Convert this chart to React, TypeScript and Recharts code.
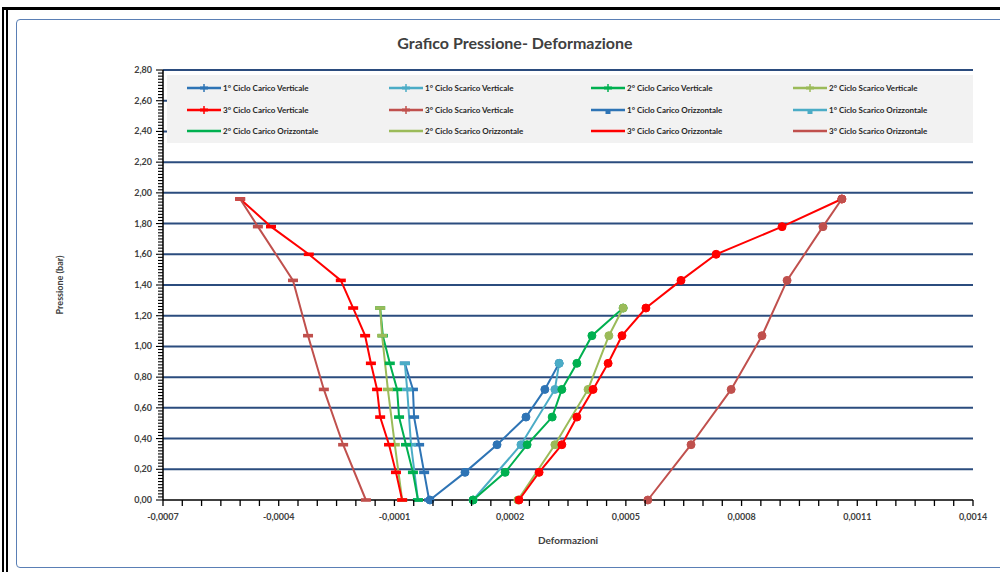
import React from "react";
import { CartesianGrid, Line, LineChart, XAxis, YAxis } from "recharts";

// pressure steps (bar) for each half-cycle
const P_CARICO_1 = [0, 0.18, 0.36, 0.54, 0.72, 0.89];
const P_SCARICO_1 = [0.89, 0.72, 0.36, 0];
const P_CARICO_2 = [0, 0.18, 0.36, 0.54, 0.72, 0.89, 1.07, 1.25];
const P_SCARICO_2 = [1.25, 1.07, 0.72, 0.36, 0];
const P_CARICO_3 = [0, 0.18, 0.36, 0.54, 0.72, 0.89, 1.07, 1.25, 1.43, 1.6, 1.78, 1.96];
const P_SCARICO_3 = [1.96, 1.78, 1.43, 1.07, 0.72, 0.36, 0];

// vertical strain (left group)
const D_CARICO_1_V = [-0.00001, -0.000023, -0.000036, -0.000049, -0.000052, -0.000073];
const D_SCARICO_1_V = [-0.000073, -0.000067, -0.000057, -0.000039];
const D_CARICO_2_V = [-0.000039, -0.000052, -0.00007, -0.000088, -0.000093, -0.000112, -0.00013, -0.000137];
const D_SCARICO_2_V = [-0.000137, -0.000132, -0.000117, -0.000099, -0.00008];
const D_CARICO_3_V = [-0.00008, -0.000096, -0.000114, -0.000137, -0.000145, -0.000161, -0.000176, -0.000207, -0.000239, -0.000322, -0.00042, -0.0005];
const D_SCARICO_3_V = [-0.0005, -0.000454, -0.000363, -0.000324, -0.000283, -0.000233, -0.000174];

// horizontal strain (right group)
const D_CARICO_1_O = [-0.000008, 0.000083, 0.000166, 0.000241, 0.00029, 0.000327];
const D_SCARICO_1_O = [0.000327, 0.000316, 0.000228, 0.000104];
const D_CARICO_2_O = [0.000104, 0.000187, 0.000244, 0.000309, 0.000334, 0.000373, 0.000412, 0.000493];
const D_SCARICO_2_O = [0.000493, 0.000456, 0.000402, 0.000316, 0.00022];
const D_CARICO_3_O = [0.000223, 0.000275, 0.000334, 0.000373, 0.000415, 0.000454, 0.00049, 0.000552, 0.000643, 0.000734, 0.000905, 0.00106];
const D_SCARICO_3_O = [0.00106, 0.001011, 0.000918, 0.000853, 0.000773, 0.000669, 0.000557];

const X_MAJOR = [-0.0007, -0.0004, -0.0001, 0.0002, 0.0005, 0.0008, 0.0011, 0.0014];
const Y_MAJOR = [0, 0.2, 0.4, 0.6, 0.8, 1, 1.2, 1.4, 1.6, 1.8, 2, 2.2, 2.4, 2.6, 2.8];

const C = {
  blu: "#2E74B5",
  azzurro: "#4BACC6",
  verde: "#00B050",
  oliva: "#9BBB59",
  rosso: "#FF0000",
  bruno: "#C0504D",
};

type Serie = {
  name: string;
  color: string;
  p: number[];
  d: number[];
  kind: "V" | "O";
  legendMark: "plus" | "square" | "none";
};

const SERIES: Serie[] = [
  { name: "1° Ciclo Carico Verticale", color: C.blu, p: P_CARICO_1, d: D_CARICO_1_V, kind: "V", legendMark: "plus" },
  { name: "1° Ciclo Scarico Verticale", color: C.azzurro, p: P_SCARICO_1, d: D_SCARICO_1_V, kind: "V", legendMark: "plus" },
  { name: "2° Ciclo Carico Verticale", color: C.verde, p: P_CARICO_2, d: D_CARICO_2_V, kind: "V", legendMark: "plus" },
  { name: "2° Ciclo Scarico Verticale", color: C.oliva, p: P_SCARICO_2, d: D_SCARICO_2_V, kind: "V", legendMark: "plus" },
  { name: "3° Ciclo Carico Verticale", color: C.rosso, p: P_CARICO_3, d: D_CARICO_3_V, kind: "V", legendMark: "plus" },
  { name: "3° Ciclo Scarico Verticale", color: C.bruno, p: P_SCARICO_3, d: D_SCARICO_3_V, kind: "V", legendMark: "plus" },
  { name: "1° Ciclo Carico Orizzontale", color: C.blu, p: P_CARICO_1, d: D_CARICO_1_O, kind: "O", legendMark: "square" },
  { name: "1° Ciclo Scarico Orizzontale", color: C.azzurro, p: P_SCARICO_1, d: D_SCARICO_1_O, kind: "O", legendMark: "square" },
  { name: "2° Ciclo Carico Orizzontale", color: C.verde, p: P_CARICO_2, d: D_CARICO_2_O, kind: "O", legendMark: "none" },
  { name: "2° Ciclo Scarico Orizzontale", color: C.oliva, p: P_SCARICO_2, d: D_SCARICO_2_O, kind: "O", legendMark: "none" },
  { name: "3° Ciclo Carico Orizzontale", color: C.rosso, p: P_CARICO_3, d: D_CARICO_3_O, kind: "O", legendMark: "none" },
  { name: "3° Ciclo Scarico Orizzontale", color: C.bruno, p: P_SCARICO_3, d: D_SCARICO_3_O, kind: "O", legendMark: "none" },
];

const FONT = "Lato, 'Open Sans', sans-serif";
const LABEL_FILL = "#404040";

// minor ticks: every 0.00005 on x, every 0.02 on y
const X_TICKS: number[] = [];
for (let i = 0; i <= 42; i++) X_TICKS.push(Math.round((-0.0007 + i * 0.00005) * 1e7) / 1e7);
const Y_TICKS: number[] = [];
for (let i = 0; i <= 140; i++) Y_TICKS.push(Math.round(i * 0.02 * 100) / 100);

const isMajor = (v: number, list: number[]) => list.some((m) => Math.abs(m - v) < 1e-9);
const fmtX = (v: number) => v.toFixed(4).replace(".", ",");
const fmtY = (v: number) => v.toFixed(2).replace(".", ",");

function XTick(props: any) {
  const { x, y, payload } = props;
  const v = payload.value as number;
  return (
    <g>
      <line x1={x} y1={y} x2={x} y2={y + 6} stroke="#000" strokeWidth={1.3} />
      {isMajor(v, X_MAJOR) && (
        <text x={x} y={y + 20} textAnchor="middle" fontSize={9} fontWeight={700} fill={LABEL_FILL} fontFamily={FONT}>
          {fmtX(v)}
        </text>
      )}
    </g>
  );
}

function YTick(props: any) {
  const { x, y, payload } = props;
  const v = payload.value as number;
  const major = isMajor(v, Y_MAJOR);
  return (
    <g>
      <line x1={x - (major ? 7 : 5)} y1={y} x2={x} y2={y} stroke="#000" strokeWidth={1.1} />
      {major && (
        <text x={x - 11} y={y + 3} textAnchor="end" fontSize={9} fontWeight={700} fill={LABEL_FILL} fontFamily={FONT}>
          {fmtY(v)}
        </text>
      )}
    </g>
  );
}

function dashDot(color: string) {
  return (props: any) => {
    const { cx, cy, index } = props;
    if (cx == null || cy == null) return <g key={index} />;
    return <rect key={index} x={cx - 5} y={cy - 1.8} width={10} height={3.6} fill={color} />;
  };
}

function LegendIcon({ s }: { s: Serie }) {
  return (
    <svg width={34} height={10} style={{ flex: "none" }}>
      <line x1={0} y1={5} x2={34} y2={5} stroke={s.color} strokeWidth={2.5} />
      {s.legendMark === "plus" && (
        <>
          <line x1={13} y1={5} x2={21} y2={5} stroke={s.color} strokeWidth={3} />
          <line x1={17} y1={1} x2={17} y2={9} stroke={s.color} strokeWidth={1.5} />
        </>
      )}
      {s.legendMark === "square" && <rect x={14.5} y={4} width={5} height={5} fill={s.color} />}
    </svg>
  );
}

function Legenda() {
  return (
    <div
      style={{
        position: "absolute",
        left: 167,
        top: 75,
        width: 806,
        height: 68,
        background: "#F2F2F2",
        fontFamily: FONT,
      }}
    >
      {SERIES.map((s, i) => {
        const col = i % 4;
        const row = Math.floor(i / 4);
        return (
          <div
            key={s.name}
            style={{
              position: "absolute",
              left: 20 + col * 202,
              top: 8 + row * 21.5,
              display: "flex",
              alignItems: "center",
              gap: 2,
              fontSize: 8,
              fontWeight: 700,
              color: "#262626",
              whiteSpace: "nowrap",
            }}
          >
            <LegendIcon s={s} />
            <span>{s.name}</span>
          </div>
        );
      })}
    </div>
  );
}

export default function App() {
  return (
    <div style={{ position: "absolute", left: 0, top: 0, width: 1000, height: 572, background: "#fff", overflow: "hidden" }}>
      {/* page frame */}
      <div style={{ position: "absolute", left: 2, top: 8, width: 2, height: 564, background: "#000" }} />
      <div style={{ position: "absolute", left: 6, top: 8, width: 2, height: 564, background: "#000" }} />
      <div style={{ position: "absolute", left: 2, top: 7, width: 998, height: 3, background: "#000" }} />
      {/* chart area border */}
      <div
        style={{
          position: "absolute",
          left: 16,
          top: 19,
          width: 1000,
          height: 547,
          border: "1.5px solid #5A7FB5",
          borderRadius: 4,
        }}
      />
      <div style={{ position: "absolute", left: 0, top: 0 }}>
        <LineChart width={1000} height={572} margin={{ top: 70, right: 27, bottom: 42, left: 53 }}>
          <CartesianGrid
            horizontal
            vertical={false}
            horizontalValues={Y_MAJOR.slice(1)}
            stroke="#2B4C7E"
            strokeWidth={2}
          />
          <XAxis
            type="number"
            dataKey="x"
            domain={[-0.0007, 0.0014]}
            ticks={X_TICKS}
            interval={0}
            tick={<XTick />}
            tickLine={false}
            tickSize={0}
            tickMargin={0}
            height={30}
            axisLine={{ stroke: "#000", strokeWidth: 1.5 }}
            label={(p: any) => {
              const vb = p.viewBox;
              return (
                <text
                  x={vb.x + vb.width / 2}
                  y={vb.y + 44}
                  textAnchor="middle"
                  fontSize={10}
                  fontWeight={700}
                  fill={LABEL_FILL}
                  fontFamily={FONT}
                >
                  Deformazioni
                </text>
              );
            }}
          />
          <YAxis
            type="number"
            dataKey="y"
            domain={[0, 2.8]}
            ticks={Y_TICKS}
            interval={0}
            tick={<YTick />}
            tickLine={false}
            tickSize={0}
            tickMargin={0}
            width={110}
            axisLine={{ stroke: "#000", strokeWidth: 1.5 }}
            label={(p: any) => {
              const vb = p.viewBox;
              const cx = vb.x + 10;
              const cy = vb.y + vb.height / 2;
              return (
                <text
                  x={cx}
                  y={cy}
                  transform={`rotate(-90 ${cx} ${cy})`}
                  textAnchor="middle"
                  fontSize={9}
                  fontWeight={700}
                  fill={LABEL_FILL}
                  fontFamily={FONT}
                >
                  Pressione (bar)
                </text>
              );
            }}
          />
          {SERIES.map((s) => (
            <Line
              key={s.name}
              name={s.name}
              data={s.p.map((y, i) => ({ x: s.d[i], y }))}
              dataKey="y"
              type="linear"
              stroke={s.color}
              strokeWidth={2}
              dot={s.kind === "V" ? dashDot(s.color) : { r: 4, fill: s.color, stroke: s.color, strokeWidth: 1 }}
              activeDot={false}
              isAnimationActive={false}
            />
          ))}
        </LineChart>
      </div>
      <div
        style={{
          position: "absolute",
          left: 0,
          width: 1000,
          top: 33,
          textAlign: "center",
          paddingLeft: 30,
          boxSizing: "border-box",
          fontFamily: FONT,
          fontSize: 16,
          fontWeight: 700,
          color: "#404040",
        }}
      >
        Grafico Pressione- Deformazione
      </div>
      <Legenda />
    </div>
  );
}
